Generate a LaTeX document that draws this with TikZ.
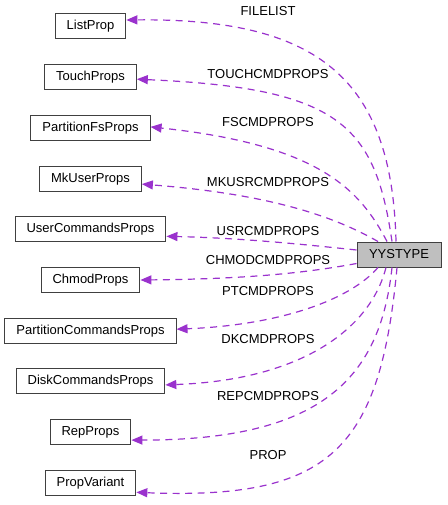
\documentclass[tikz,border=0pt]{standalone}
\usepackage{fontspec}
\setmainfont{Liberation Sans}
\usetikzlibrary{arrows.meta}
\definecolor{linkpurple}{HTML}{9A32CD}
\definecolor{boxgray}{HTML}{404040}
\definecolor{yyfill}{HTML}{BFBFBF}

\begin{document}
\begin{tikzpicture}[
  x=1pt, y=-1pt,
  node distance=50.7pt,
  font=\fontsize{13}{15}\selectfont,
  box/.style={rectangle, draw=boxgray, line width=1pt, minimum height=25pt,
    inner xsep=11.5pt, inner ysep=0pt, text height=9.5pt, text depth=2.5pt},
  link/.style={draw=linkpurple, line width=1.2pt, dash pattern=on 7pt off 5.5pt,
    -{Triangle[length=11pt,width=9pt]}},
  lbl/.style={inner sep=0pt}
]
\useasboundingbox (0,0) rectangle (447,505);

\node[box] (ListProp) at (90.5,26.5) {ListProp};
\node[box] (TouchProps)   [below of=ListProp] {TouchProps};
\node[box] (FsProps)      [below of=TouchProps] {PartitionFsProps};
\node[box] (MkUserProps)  [below of=FsProps] {MkUserProps};
\node[box] (UserCmdProps) [below of=MkUserProps] {UserCommandsProps};

\node[box] (ChmodProps)   [below of=UserCmdProps] {ChmodProps};
\node[box] (PartCmdProps) [below of=ChmodProps] {PartitionCommandsProps};
\node[box] (DiskCmdProps) [below of=PartCmdProps] {DiskCommandsProps};
\node[box] (RepProps)     [below of=DiskCmdProps] {RepProps};
\node[box] (PropVariant)  [below of=RepProps] {PropVariant};

\node[box, fill=yyfill, minimum width=84pt] (yy) at (399,254.5) {YYSTYPE};

% member labels
\node[lbl] (lFilelist) at (268,11)  {FILELIST};
\node[lbl] (lTouch)    at (268,74)  {TOUCHCMDPROPS};
\node[lbl] (lFs)       at (268,122) {FSCMDPROPS};
\node[lbl] (lMkusr)    at (268,182) {MKUSRCMDPROPS};
\node[lbl] (lUsr)      at (268,231) {USRCMDPROPS};
\node[lbl] (lChmod)    at (268,260) {CHMODCMDPROPS};
\node[lbl] (lPt)       at (268,291) {PTCMDPROPS};
\node[lbl] (lDk)       at (268,339) {DKCMDPROPS};
\node[lbl] (lRep)      at (268,396) {REPCMDPROPS};
\node[lbl] (lProp)     at (268,455) {PROP};

\draw[link] ([xshift=-3pt]yy.north) .. controls (392,80) and (320,18) .. ([yshift=6.5pt]ListProp.east);
\draw[link] ([xshift=-7pt]yy.north) .. controls (375,125) and (340,88) .. ([yshift=-2pt]TouchProps.east);
\draw[link] ([xshift=-12pt]yy.north) .. controls (360,190) and (320,145) .. ([yshift=1pt]FsProps.east);
\draw[link] ([xshift=-21pt]yy.north) .. controls (340,220) and (280,195) .. ([yshift=-5.5pt]MkUserProps.east);
\draw[link] ([yshift=4.5pt]yy.west) .. controls (300,244) and (240,238) .. ([yshift=-7pt]UserCmdProps.east);

\draw[link] ([yshift=-9pt]yy.west) .. controls (300,274) and (240,279) .. (ChmodProps.east);
\draw[link] ([xshift=-21pt]yy.south) .. controls (350,300) and (280,325) .. ([yshift=1.5pt]PartCmdProps.east);
\draw[link] ([xshift=-13pt]yy.south) .. controls (370,330) and (300,380) .. ([yshift=-3.5pt]DiskCmdProps.east);
\draw[link] ([xshift=-7pt]yy.south) .. controls (380,380) and (320,440) .. ([yshift=-8pt]RepProps.east);
\draw[link] ([xshift=-2pt]yy.south) .. controls (380,450) and (330,500) .. ([yshift=-9.5pt]PropVariant.east);

\end{tikzpicture}
\end{document}
